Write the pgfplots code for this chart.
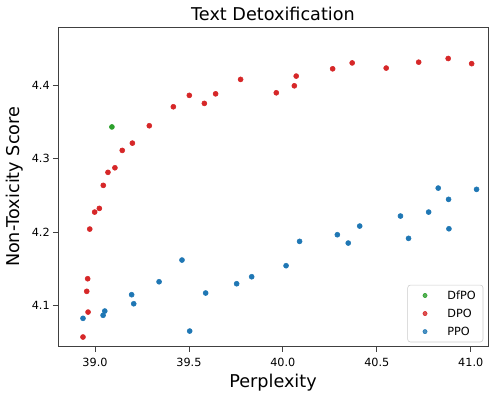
\documentclass[border=0pt]{standalone}
\usepackage{fontspec}
\setmainfont{DejaVu Sans}
\usepackage{pgfplots}
\pgfplotsset{compat=1.18}

\definecolor{cGreen}{HTML}{2CA02C}
\definecolor{cRed}{HTML}{D62728}
\definecolor{cBlue}{HTML}{1F77B4}

\begin{document}
\begin{tikzpicture}
% fixed page frame around the axis box
\useasboundingbox (-41.76pt,-32.6pt) rectangle (310.32pt,249.64pt);
\begin{axis}[
  at={(0,0)}, anchor=south west,
  scale only axis,
  width=309.6pt, height=230.2pt,
  xmin=38.803, xmax=41.092,
  ymin=4.0443, ymax=4.4788,
  xtick={39,39.5,40,40.5,41},
  ytick={4.1,4.2,4.3,4.4},
  tick pos=left,
  tick align=outside,
  major tick length=3.6pt,
  axis line style={black!75, line width=0.6pt},
  tick style={black!75, line width=0.6pt},
  /pgf/number format/assume math mode=true,
  xticklabel style={/pgf/number format/.cd, fixed, fixed zerofill, precision=1, /tikz/.cd,
    font=\fontsize{8.1}{9}\selectfont, anchor=base, inner sep=0pt, yshift=-10.8pt},
  yticklabel style={/pgf/number format/.cd, fixed, fixed zerofill, precision=1, /tikz/.cd,
    font=\fontsize{8.1}{9}\selectfont, anchor=east, inner sep=0pt, xshift=-2.2pt},
  title={Text Detoxification},
  every axis title shift=0pt,
  title style={at={(axis description cs:0.5,1)}, anchor=base, yshift=4.5pt,
    font=\fontsize{12.7}{14}\selectfont, inner sep=0pt},
  xlabel={Perplexity},
  xlabel style={at={(axis description cs:0.5,0)}, anchor=base, yshift=-29.2pt,
    font=\fontsize{12.7}{14}\selectfont, inner sep=0pt},
  ylabel={Non-Toxicity Score},
  ylabel style={at={(axis description cs:0,0.5)}, anchor=center, yshift=31pt,
    font=\fontsize{12.7}{14}\selectfont, inner sep=0pt},
  legend cell align=left,
  legend style={at={(1,0)}, anchor=south east, xshift=-3.4pt, yshift=3.2pt,
    draw=black!20, rounded corners=2pt, fill=white, fill opacity=0.8, text opacity=1,
    inner xsep=5.3pt, inner ysep=4.55pt, row sep=7.1pt, column sep=0pt,
    font=\fontsize{8.1}{9}\selectfont,
    nodes={inner sep=0pt, text height=5.9pt, text depth=0pt}},
  legend image code/.code={%
    \path[draw=none, fill=none] (0pt,0pt) -- (23.3pt,0pt);
    \path[#1, draw=none] plot[mark=*, mark size=1.5pt, mark options={draw=none}]
      coordinates {(7.2pt,0pt)};},
  every axis plot/.append style={only marks, mark=*, mark size=1.8pt,
    mark options={draw=white, line width=0.25pt}},
]
% DfPO
\addplot[cGreen, mark options={fill=cGreen}] coordinates {(39.090,4.343)};
\addlegendentry{DfPO}
% DPO
\addplot[cRed, mark options={fill=cRed}] table {
x y
38.936 4.0575
38.963 4.0914
38.956 4.1196
38.961 4.1367
38.972 4.2042
38.998 4.2273
39.023 4.2323
39.044 4.2636
39.069 4.2813
39.106 4.2875
39.145 4.3111
39.199 4.3210
39.289 4.3446
39.417 4.3704
39.502 4.3859
39.582 4.3750
39.642 4.3880
39.775 4.4076
39.965 4.3894
40.061 4.3989
40.071 4.4121
40.265 4.4220
40.369 4.4300
40.550 4.4230
40.723 4.4310
40.880 4.4360
41.005 4.4290
};
\addlegendentry{DPO}
% PPO
\addplot[cBlue, mark options={fill=cBlue}] table {
x y
38.936 4.0829
39.043 4.0870
39.052 4.0928
39.195 4.1150
39.206 4.1027
39.341 4.1326
39.463 4.1621
39.504 4.0656
39.589 4.1173
39.754 4.1299
39.834 4.1394
40.017 4.1544
40.089 4.1875
40.290 4.1965
40.348 4.1852
40.409 4.2083
40.626 4.2219
40.669 4.1916
40.776 4.2273
40.827 4.2599
40.882 4.2446
40.884 4.2046
41.031 4.2582
};
\addlegendentry{PPO}
\end{axis}
\end{tikzpicture}
\end{document}
